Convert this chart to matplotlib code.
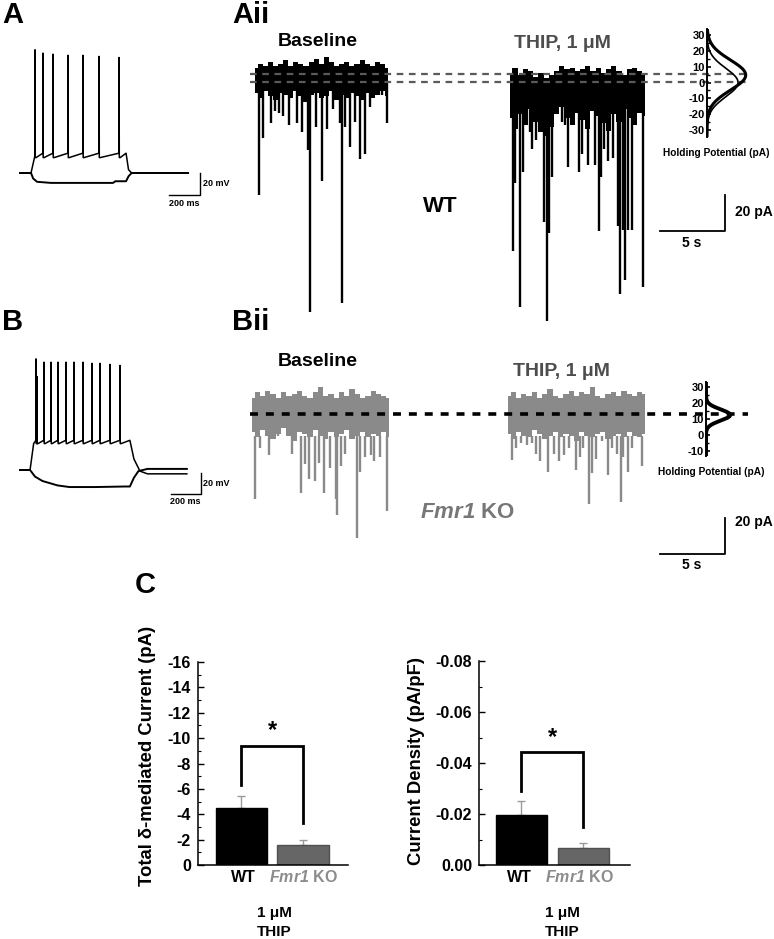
import numpy as np
import matplotlib
matplotlib.use("Agg")
import matplotlib.pyplot as plt
from matplotlib.ticker import MultipleLocator, FormatStrFormatter

plt.rcParams['font.family'] = ['Liberation Sans', 'DejaVu Sans']
plt.rcParams['font.weight'] = 'bold'
plt.rcParams['axes.unicode_minus'] = False
plt.rcParams['mathtext.fontset'] = 'custom'
# only math used is the italic gene name, digits included
plt.rcParams['mathtext.it'] = 'Liberation Sans:italic:bold'
plt.rcParams['mathtext.rm'] = 'Liberation Sans:italic:bold'

W, H = 774, 939

# ---------------- current clamp (ms, mV) ----------------
a_step = [71, 684]
a_rest, a_plateau, a_ahp = -65, -47, -51
a_spike_t = [97, 148, 213, 310, 406, 510, 639]
a_spike_v = [47, 44, 43, 42, 42, 41, 40]
a_hyp_t = [0, 71, 85, 110, 200, 400, 600, 615, 684, 700, 720, 1084]
a_hyp_v = [-65, -65, -70, -73, -74, -74, -74, -72.5, -72.5, -68, -65, -65]
a_off_t = [700, 720, 1084]
a_off_v = [-62, -65, -65]

b_step = [67, 733]
b_rest, b_plateau, b_ahp = -65, -38, -41
b_spike_t = [107, 113, 160, 207, 253, 307, 360, 420, 480, 533, 600, 667]
b_spike_v = [36, 20, 33, 33, 33, 33, 33, 33, 32, 32, 31, 30]
b_hyp_t = [0, 67, 100, 150, 250, 330, 500, 700, 733, 760, 790, 850, 1113]
b_hyp_v = [-65, -65, -71, -75, -79, -80.5, -80.5, -80, -80, -72, -66, -64, -64]
b_off_t = [760, 800, 850, 1113]
b_off_v = [-55, -66, -68.5, -68.5]

# ---------------- voltage clamp traces (s, pA) ----------------
wt_base_span = [0.0, 10.2]
wt_base_top = [8, 10, 9, 11, 9, 10, 12, 9, 11, 10, 9, 11, 13, 10, 14, 11, 9, 10, 11, 9, 10, 12, 10, 9, 11, 10, 8]
wt_base_bot = [-6, -9, -5, -8, -10, -6, -7, -9, -5, -8, -11, -7, -6, -9, -8, -5, -10, -7, -9, -6, -8, -10, -6, -9, -7, -5, -8]
wt_base_ev_t = [0.31, 0.62, 1.23, 1.54, 1.85, 2.15, 2.62, 3.23, 3.62, 4.08, 4.23, 4.69, 5.15, 5.54, 6.0,
                6.54, 6.69, 6.92, 7.31, 7.69, 8.08, 8.46, 8.85, 9.31, 9.77, 10.15]
wt_base_ev_a = [-63, -31, -23, -16, -17, -19, -24, -23, -28, -38, -128, -25, -55, -26, -15,
                -23, -123, -25, -36, -22, -43, -40, -14, -6, -7, -23]

wt_thip_span = [19.6, 30.0]
wt_thip_top = [5, 8, 4, 7, 6, 3, 5, 2, 4, 6, 9, 7, 8, 6, 7, 9, 6, 8, 5, 7, 9, 6, 4, 7, 8, 6, 5]
wt_thip_bot = [-20, -26, -18, -24, -15, -22, -28, -30, -25, -18, -14, -20, -24, -17, -21, -26, -16, -19, -23, -27, -18, -22, -15, -20, -24, -17, -19]
wt_thip_ev_t = [19.85, 20.0, 20.38, 20.62, 21.15, 21.31, 21.62, 21.92, 22.23, 22.46, 22.62, 22.85, 23.62, 23.85,
                24.08, 24.46, 24.92, 25.15, 25.62, 26.15, 26.46, 26.62, 26.85, 27.15, 27.54, 27.92, 28.08,
                28.31, 28.46, 28.69, 29.0, 29.46, 29.85]
wt_thip_ev_a = [-94, -56, -125, -50, -28, -37, -32, -22, -78, -133, -84, -53, -22, -24,
                -47, -16, -50, -40, -46, -46, -83, -53, -37, -44, -42, -80, -118,
                -82, -110, -82, -82, -16, -114]

ko_base_span = [0.0, 10.54]
ko_base_top = [21, 24, 22, 25, 23, 21, 24, 22, 23, 25, 22, 21, 24, 27, 22, 23, 21, 24, 22, 26, 23, 21, 22, 25, 23, 22, 21]
ko_base_bot = [2, -1, 3, 0, -2, 1, 4, 0, -3, 2, 1, -1, 3, 0, -2, 2, -1, 1, 3, -2, 0, 2, -1, 1, 0, 2, -1]
ko_base_ev_t = [0.23, 0.62, 1.31, 1.62, 2.0, 3.08, 3.77, 4.08, 4.38, 4.85, 5.15, 5.54, 6.0, 6.46, 6.54,
                6.85, 7.15, 8.08, 8.31, 8.69, 9.15, 9.38, 9.85, 10.38]
ko_base_ev_a = [-35, -7, -11, -2, 1, -10, -32, -16, -24, -25, -15, -32, -18, -35, -44,
                -17, -10, -57, -20, -12, -11, -14, -12, -42]

ko_thip_span = [19.69, 30.23]
ko_thip_top = [22, 24, 21, 23, 22, 24, 21, 23, 26, 22, 21, 23, 25, 22, 24, 23, 27, 22, 21, 23, 24, 22, 25, 23, 22, 24, 23]
ko_thip_bot = [1, -2, 2, 0, -1, 3, 1, -2, 0, 2, -1, 1, 0, -3, 2, 0, -1, 1, 2, -2, 0, 1, -1, 2, 0, -1, 1]
ko_thip_ev_t = [20.0, 20.31, 20.69, 21.15, 21.54, 21.85, 22.15, 22.77, 23.23, 23.62, 24.0, 24.38, 24.92,
                25.23, 25.46, 25.92, 26.15, 26.46, 26.92, 27.38, 27.69, 28.08, 28.38, 28.54, 28.92, 29.23, 30.0]
ko_thip_ev_a = [-13.5, -7, -4, -5, -4, -10, -14, -20, -10, -14, -11, -7, -19,
                -12, -7, -38, -21, -13, -3, -22, -7, -10, -37, -12, -20, -7, -17]

# holding current distributions (gaussian fits: mean, sd, relative height, line width)
wt_fits = [(4.7, 9.5, 0.86, 2.2), (0.0, 9.0, 0.69, 1.2)]
ko_fits = [(12.5, 3.5, 0.62, 2.8)]

# ---------------- bar charts ----------------
groups = ['WT', 'Fmr1 KO']
total_mean = [-4.5, -1.57]
total_err = [0.95, 0.43]
dens_mean = [-0.0196, -0.0067]
dens_err = [0.0055, 0.0019]

fig = plt.figure(figsize=(W / 100, H / 100), dpi=100)


def px_axes(x0, y0, x1, y1):
    return fig.add_axes([x0 / W, 1 - y1 / H, (x1 - x0) / W, (y1 - y0) / H])


def ftext(x, y, s, **kw):
    fig.text(x / W, 1 - y / H, s, **kw)


def cc_trace(step, rest, plateau, ahp, sp_t, sp_v, off_t, off_v):
    t = [0, step[0], step[0] + 24]
    v = [rest, rest, plateau - 3]
    for st, sv in zip(sp_t, sp_v):
        t += [st - 1, st, st + 1.5, st + 7]
        v += [plateau, sv, ahp, ahp]
    t += [step[1]] + off_t
    v += [plateau] + off_v
    return t, v


# panel A / B current clamp
for (y0, y1, step, rest, plat, ahp, sp_t, sp_v, hyp_t, hyp_v, off_t, off_v, msx, ybar) in [
        (35, 215, a_step, a_rest, a_plateau, a_ahp, a_spike_t, a_spike_v, a_hyp_t, a_hyp_v, a_off_t, a_off_v, 6.45, 173),
        (345, 525, b_step, b_rest, b_plateau, b_ahp, b_spike_t, b_spike_v, b_hyp_t, b_hyp_v, b_off_t, b_off_v, 6.67, 470)]:
    ax = px_axes(10, y0, 240, y1)
    ax.set_xlim(-10 * msx, 220 * msx)
    ax.set_ylim(-65 - (y1 - ybar) / 1.1, -65 + (ybar - y0) / 1.1)
    ax.axis('off')
    t, v = cc_trace(step, rest, plat, ahp, sp_t, sp_v, off_t, off_v)
    ax.plot(t, v, color='k', lw=1.1)
    ax.plot(hyp_t, hyp_v, color='k', lw=1.4)

axA = fig.axes[0]
axA.plot([149 * 6.45, 180 * 6.45, 180 * 6.45], [-85, -85, -65], color='k', lw=1)
ftext(203, 184, '20 mV', fontsize=6.5, va='center')
ftext(184, 204, '200 ms', fontsize=6.5, ha='center', va='center')
axB = fig.axes[1]
axB.plot([151 * 6.67, 181 * 6.67, 181 * 6.67], [-87, -87, -68], color='k', lw=1)
ftext(203, 483, '20 mV', fontsize=6.5, va='center')
ftext(185, 502, '200 ms', fontsize=6.5, ha='center', va='center')


def vc_panel(y0, y1, x_ref, y_ref, pa_ref, color, segs, dash_levels, dash_style):
    ax = px_axes(240, y0, 770, y1)
    ax.set_xlim((240 - x_ref) / 13, (770 - x_ref) / 13)
    ax.set_ylim(pa_ref + (y_ref - y1) / 1.8, pa_ref + (y_ref - y0) / 1.8)
    ax.axis('off')
    for span, top, bot, ev_t, ev_a in segs:
        tt = np.linspace(span[0], span[1], len(top))
        ax.fill_between(tt, bot, top, step='mid', color=color, lw=0)
        ax.vlines(ev_t, 0, ev_a, color=color, lw=1.7)
    for lev in dash_levels:
        ax.plot([(250 - x_ref) / 13, (748 - x_ref) / 13], [lev, lev], **dash_style)
    return ax


axAii = vc_panel(40, 330, 255, 82, 0, 'k',
                 [(wt_base_span, wt_base_top, wt_base_bot, wt_base_ev_t, wt_base_ev_a),
                  (wt_thip_span, wt_thip_top, wt_thip_bot, wt_thip_ev_t, wt_thip_ev_a)],
                 [4.5, 0], dict(color='#5a5a5a', lw=1.6, ls=(0, (3, 2.5)), zorder=5))
axAii.plot([31.15, 36.15, 36.15], [-82.8, -82.8, -62.8], color='k', lw=1.3)
ftext(735, 212, '20 pA', fontsize=10, va='center')
ftext(692, 243, '5 s', fontsize=10, ha='center', va='center')

axBii = vc_panel(340, 600, 252, 414, 12, '#8a8a8a',
                 [(ko_base_span, ko_base_top, ko_base_bot, ko_base_ev_t, ko_base_ev_a),
                  (ko_thip_span, ko_thip_top, ko_thip_bot, ko_thip_ev_t, ko_thip_ev_a)],
                 [12], dict(color='k', lw=2.6, ls=(0, (2.2, 2.2)), zorder=5))
axBii.plot([31.38, 36.38, 36.38], [-65.8, -65.8, -45.8], color='k', lw=1.3)
ftext(735, 522, '20 pA', fontsize=10, va='center')
ftext(692, 565, '5 s', fontsize=10, ha='center', va='center')


def inset(x0, y0, x1, y1, ylim, fits, ticks):
    ax = px_axes(x0, y0, x1, y1)
    ax.set_facecolor('none')
    ax.set_ylim(*ylim)
    ax.set_xlim(0, 1)
    yy = np.linspace(ylim[0], ylim[1], 300)
    for mu, sd, hgt, lw in fits:
        ax.plot(hgt * np.exp(-0.5 * ((yy - mu) / sd) ** 2), yy, color='k', lw=lw)
    for s in ['top', 'right', 'bottom']:
        ax.spines[s].set_visible(False)
    ax.spines['left'].set_linewidth(1.4)
    ax.set_xticks([])
    ax.set_yticks(ticks)
    ax.yaxis.set_minor_locator(MultipleLocator(5))
    ax.tick_params(axis='y', which='major', direction='in', length=3, width=1.2, pad=1.5, labelsize=8)
    ax.tick_params(axis='y', which='minor', direction='in', length=2, width=1)
    return ax


inset(707, 29, 752, 137, (-34.4, 33.8), wt_fits, [-30, -20, -10, 0, 10, 20, 30])
ftext(716, 153, 'Holding Potential (pA)', fontsize=7.3, ha='center', va='center')
inset(706, 382, 745, 456, (-13.1, 33.1), ko_fits, [-10, 0, 10, 20, 30])
ftext(711, 472, 'Holding Potential (pA)', fontsize=7.3, ha='center', va='center')

# labels for traces
ftext(318, 42, 'Baseline', fontsize=14, ha='center', va='center')
ftext(562, 43, 'THIP, 1 μM', fontsize=14, ha='center', va='center', color='#4d4d4d')
ftext(318, 362, 'Baseline', fontsize=14, ha='center', va='center')
ftext(561, 371, 'THIP, 1 μM', fontsize=14, ha='center', va='center', color='#4d4d4d')
ftext(440, 207, 'WT', fontsize=16, ha='center', va='center')
ftext(468, 513, r'$Fmr1$ KO', fontsize=16, ha='center', va='center', color='#777777')

# panel letters
ftext(2, 15, 'A', fontsize=21, va='center')
ftext(232, 15, 'Aii', fontsize=21, va='center')
ftext(2, 322, 'B', fontsize=21, va='center')
ftext(232, 322, 'Bii', fontsize=21, va='center')
ftext(135, 585, 'C', fontsize=21, va='center')


# ---------------- panel C ----------------
def bar_panel(x0, y0, x1, y1, means, errs, ymax, major, fmt, bracket, star_y, xl):
    ax = px_axes(x0, y0, x1, y1)
    xs = [0, 1]
    ax.bar(xs, means, width=0.83, color=['k', '#666666'], edgecolor=['k', '#505050'], lw=1, zorder=2)
    ax.errorbar(xs, means, yerr=[errs, [0, 0]], fmt='none', ecolor='#9a9a9a', elinewidth=1,
                capsize=3, capthick=1, zorder=1)
    ax.set_ylim(0, ymax)
    ax.set_xlim(*xl)
    ax.plot([0, 0, 1, 1], bracket, color='k', lw=2, solid_joinstyle='miter')
    ax.text(0.5, star_y, '*', fontsize=17, ha='center', va='center')
    for s in ['top', 'right']:
        ax.spines[s].set_visible(False)
    for s in ['left', 'bottom']:
        ax.spines[s].set_linewidth(1.1)
    ax.set_xticks([])
    ax.yaxis.set_major_locator(MultipleLocator(major))
    ax.yaxis.set_minor_locator(MultipleLocator(major / 2))
    ax.yaxis.set_major_formatter(FormatStrFormatter(fmt))
    ax.tick_params(axis='y', which='major', direction='in', length=4, width=1, pad=5, labelsize=11.5)
    ax.tick_params(axis='y', which='minor', direction='in', length=2.5, width=0.8)
    return ax


axC1 = bar_panel(198, 662, 348, 865, total_mean, total_err, -16, 2, '%d',
                 [-6.3, -9.4, -9.4, -3.3], -10.6, (-0.707, 1.732))
axC2 = bar_panel(479, 661, 630, 865, dens_mean, dens_err, -0.08, 0.02, '%.2f',
                 [-0.029, -0.0443, -0.0443, -0.0149], -0.0500, (-0.685, 1.75))

ftext(148, 756, 'Total δ-mediated Current (pA)', fontsize=13.3, rotation=90, ha='center', va='center')
ftext(417, 761, 'Current Density (pA/pF)', fontsize=13.3, rotation=90, ha='center', va='center')

for cx_wt, cx_ko, cx_lab in [(243, 303, 274), (519, 579, 562)]:
    ftext(cx_wt, 877, groups[0], fontsize=11.5, ha='center', va='center')
    ftext(cx_ko, 877, r'$Fmr1$ KO', fontsize=11.5, ha='center', va='center', color='#8c8c8c')
    ftext(cx_lab, 913, '1 μM', fontsize=11, ha='center', va='center')
    ftext(cx_lab, 932, 'THIP', fontsize=11, ha='center', va='center')

fig.savefig('out.png', dpi=100)
